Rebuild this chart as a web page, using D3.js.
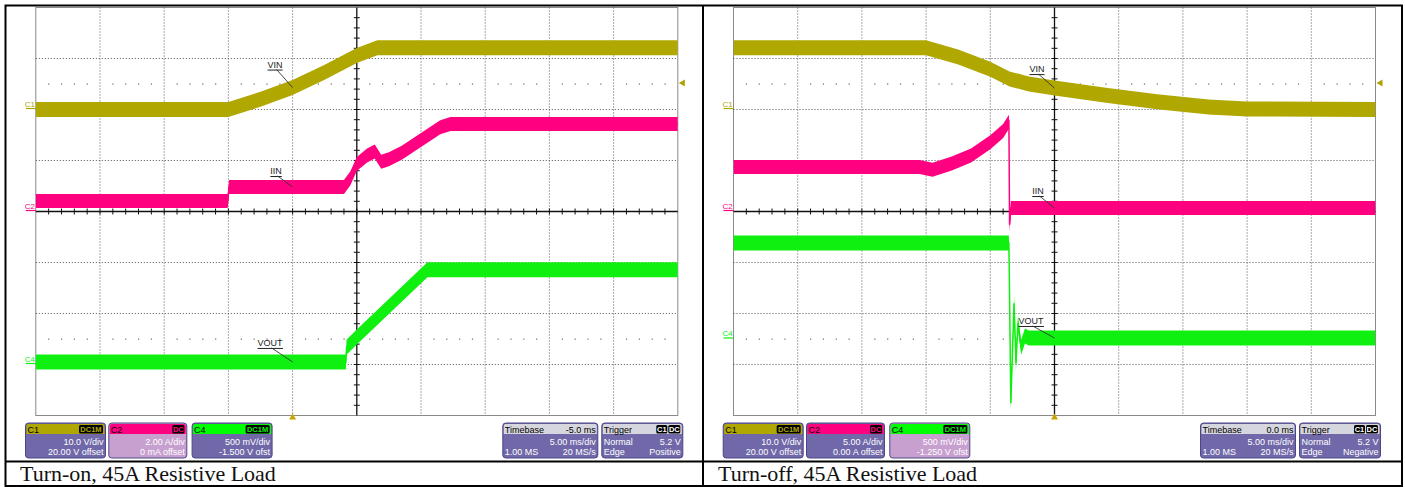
<!DOCTYPE html>
<html><head><meta charset="utf-8">
<script src="https://cdn.jsdelivr.net/npm/d3@7"></script>
<style>body{margin:0;background:#fff}svg{display:block}</style>
</head><body><svg id="c" width="1405" height="487"></svg>
<script>
// ---------------- DATA ----------------
const channelNames = ["C1", "C2", "C4"];
const couplingLabels = ["DC1M", "DC", "DC1M"];
const seriesNames = ["VIN", "IIN", "VOUT"];

// Turn-on panel
const onPerDiv = [10, 2, 0.5];
const onOffsets = [20, 0, -1.5];
const onScaleLabels = ["10.0 V/div", "2.00 A/div", "500 mV/div"];
const onOffsetLabels = ["20.00 V offset", "0 mA offset", "-1.500 V ofst"];
const onTimeRange = [-20, 30];          // ms across 10 div
const onTimebase = ["-5.0 ms", "5.00 ms/div", "1.00 MS", "20 MS/s"];
const onTrigger = ["Normal", "5.2 V", "Edge", "Positive"];
const onVinT  = [-20, -5.0, -2.5, 0, 2.5, 5.0, 6.6, 30];
const onVinV  = [0.0, 0.0, 2.0, 4.3, 7.3, 10.6, 12.1, 12.1];
const onIinT  = [-20, -5.05, -4.95, 4.0, 4.5, 5.0, 5.8, 6.4, 6.9, 7.5, 8.5, 10.0, 11.5, 12.3, 30];
const onIinA  = [0.41, 0.41, 0.96, 0.96, 1.3, 1.86, 2.2, 2.35, 1.95, 2.05, 2.3, 2.8, 3.3, 3.43, 3.43];
const onVoutT = [-20, 4.15, 4.2, 5.0, 10.5, 30];
const onVoutV = [0.025, 0.025, 0.17, 0.27, 0.93, 0.93];

// Turn-off panel
const offPerDiv = [10, 5, 0.5];
const offOffsets = [20, 0, -1.25];
const offScaleLabels = ["10.0 V/div", "5.00 A/div", "500 mV/div"];
const offOffsetLabels = ["20.00 V offset", "0.00 A offset", "-1.250 V ofst"];
const offTimeRange = [-25, 25];
const offTimebase = ["0.0 ms", "5.00 ms/div", "1.00 MS", "20 MS/s"];
const offTrigger = ["Normal", "5.2 V", "Edge", "Negative"];
const offVinT  = [-25, -10, -7.5, -5, -3.5, -2, 0, 4, 8, 12, 15, 25];
const offVinV  = [12.1, 12.1, 10.3, 7.9, 6.0, 5.0, 4.2, 2.8, 1.5, 0.5, 0.1, 0.0];
const offIinT  = [-25, -10.5, -9.5, -8, -6.5, -5, -4, -3.55, -3.5, -3.4, 25];
const offIinA  = [4.36, 4.36, 4.1, 4.7, 5.5, 6.8, 7.9, 8.8, -1.3, 0.34, 0.34];
const offVoutT = [-25, -3.55, -3.4, -3.15, -3.0, -2.85, -2.6, -2.3, -2.0, 25];
const offVoutV = [0.94, 0.94, -0.63, 0.35, -0.24, 0.16, -0.08, 0.03, 0.01, 0.01];

const captions = ["Turn-on, 45A Resistive Load", "Turn-off, 45A Resistive Load"];

// ---------------- STYLE ----------------
const traceColors = ["#B0A800", "#FF0080", "#10F010"];
const bandHalf = [7.5, 7, 7.5];
const DIVX = 64.2, DIVY = 51;
const bodyColor = "#7068A8", selColor = "#C8A0D0";

const svg = d3.select("#c");
const zip = (a, b) => a.map((t, i) => [t, b[i]]);

const panels = [
  { x0: 35.8, range: onTimeRange, perDiv: onPerDiv, offsets: onOffsets,
    series: [zip(onVinT, onVinV), zip(onIinT, onIinA), zip(onVoutT, onVoutV)],
    scaleLabels: onScaleLabels, offsetLabels: onOffsetLabels, timebase: onTimebase, trigger: onTrigger,
    selected: 1, ann: [[-16, -18], [-15, -11], [-21, -14]], caption: captions[0], capX: 20 },
  { x0: 733.5, range: offTimeRange, perDiv: offPerDiv, offsets: offOffsets,
    series: [zip(offVinT, offVinV), zip(offIinT, offIinA), zip(offVoutT, offVoutV)],
    scaleLabels: offScaleLabels, offsetLabels: offOffsetLabels, timebase: offTimebase, trigger: offTrigger,
    selected: 2, ann: [[-16, -14], [-15, -12], [-22, -12]], caption: captions[1], capX: 718 }
];
const y0 = 7.5, y1 = y0 + 8 * DIVY;

panels.forEach((p, pi) => {
  const g = svg.append("g");
  const x = d3.scaleLinear().domain(p.range).range([p.x0, p.x0 + 10 * DIVX]);
  const tPerDiv = (p.range[1] - p.range[0]) / 10;
  const ys = p.perDiv.map((pd, i) => d3.scaleLinear()
      .domain([-4 * pd - p.offsets[i], 4 * pd - p.offsets[i]]).range([y1, y0]));
  const cx = x(p.range[0] + 5 * tPerDiv), cy = y0 + 4 * DIVY;

  // frame
  g.append("rect").attr("x", p.x0).attr("y", y0).attr("width", 10 * DIVX).attr("height", 8 * DIVY)
    .attr("fill", "#fff").attr("stroke", "#8a8a8a").attr("stroke-width", 1);
  // grid
  for (let i = 1; i < 10; i++) {
    if (i === 5) continue;
    const gx = x(p.range[0] + i * tPerDiv);
    g.append("line").attr("x1", gx).attr("x2", gx).attr("y1", y0).attr("y2", y1)
      .attr("stroke", "#555").attr("stroke-width", 1).attr("stroke-dasharray", "1,2");
  }
  for (let j = 1; j < 8; j++) {
    if (j === 4) continue;
    const gy = y0 + j * DIVY;
    g.append("line").attr("x1", p.x0).attr("x2", p.x0 + 10 * DIVX).attr("y1", gy).attr("y2", gy)
      .attr("stroke", "#555").attr("stroke-width", 1).attr("stroke-dasharray", "1,2");
  }
  // sparse dotted reference lines
  [1.5, 6.5].forEach(d => {
    const gy = y0 + d * DIVY;
    for (let k = 1; k < 50; k++) {
      if (k % 5 === 0) continue;
      g.append("rect").attr("x", p.x0 + k * DIVX / 5 - 0.5).attr("y", gy - 0.5)
        .attr("width", 1.2).attr("height", 1.2).attr("fill", "#666");
    }
  });
  // center axes with ticks
  g.append("line").attr("x1", cx).attr("x2", cx).attr("y1", y0).attr("y2", y1).attr("stroke", "#111").attr("stroke-width", 1.3);
  g.append("line").attr("x1", p.x0).attr("x2", p.x0 + 10 * DIVX).attr("y1", cy).attr("y2", cy).attr("stroke", "#111").attr("stroke-width", 1.3);
  for (let k = 1; k < 50; k++) {
    const tx = p.x0 + k * DIVX / 5;
    g.append("line").attr("x1", tx).attr("x2", tx).attr("y1", cy - 3).attr("y2", cy + 3).attr("stroke", "#111");
  }
  for (let k = 1; k < 40; k++) {
    const ty = y0 + k * DIVY / 5;
    g.append("line").attr("x1", cx - 3).attr("x2", cx + 3).attr("y1", ty).attr("y2", ty).attr("stroke", "#111");
  }

  // traces
  const clipId = "clip" + pi;
  svg.append("clipPath").attr("id", clipId).append("rect")
    .attr("x", p.x0).attr("y", y0).attr("width", 10 * DIVX).attr("height", 8 * DIVY);
  const tg = g.append("g").attr("clip-path", `url(#${clipId})`);
  p.series.forEach((s, si) => {
    const yy = ys[si], h = bandHalf[si];
    tg.append("path").datum(s)
      .attr("d", d3.area().x(d => x(d[0])).y0(d => yy(d[1]) + h).y1(d => yy(d[1]) - h))
      .attr("fill", traceColors[si]);
    tg.append("path").datum(s)
      .attr("d", d3.line().x(d => x(d[0])).y(d => yy(d[1])))
      .attr("fill", "none").attr("stroke", traceColors[si]).attr("stroke-width", 1.5);
  });

  // annotations anchored at t = 0
  p.series.forEach((s, si) => {
    const v = d3.scaleLinear().domain(s.map(d => d[0])).range(s.map(d => d[1]))(0);
    const ax = x(0), ay = ys[si](v);
    const [dx, dy] = p.ann[si];
    const sx = ax + dx, sy = ay + dy;
    const t = g.append("text").attr("x", sx - 1.5).attr("y", sy - 2).attr("text-anchor", "middle")
      .attr("font-family", "Liberation Sans, Arial, sans-serif").attr("font-size", 9).attr("fill", "#222")
      .text(seriesNames[si]);
    const bb = t.node().getBBox();
    g.append("line").attr("x1", bb.x).attr("x2", bb.x + bb.width).attr("y1", sy + 0.5).attr("y2", sy + 0.5)
      .attr("stroke", "#222").attr("stroke-width", 1);
    g.append("line").attr("x1", sx).attr("y1", sy).attr("x2", ax).attr("y2", ay)
      .attr("stroke", "#333").attr("stroke-width", 0.9);
  });

  // channel zero markers
  channelNames.forEach((c, si) => {
    const zy = ys[si](0);
    g.append("text").attr("x", p.x0 - 11).attr("y", zy - 3).attr("font-family", "Liberation Sans, Arial, sans-serif")
      .attr("font-size", 8).attr("fill", traceColors[si]).text(c);
    g.append("line").attr("x1", p.x0 - 10).attr("x2", p.x0).attr("y1", zy - 1).attr("y2", zy - 1)
      .attr("stroke", traceColors[si]).attr("stroke-width", 1.2);
  });

  // trigger level arrow (5.2 V on C1) and trigger position arrow (t = 0)
  const tl = ys[0](5.2), rx = p.x0 + 10 * DIVX;
  g.append("path").attr("d", `M${rx + 1},${tl} L${rx + 7},${tl - 3.5} L${rx + 7},${tl + 3.5}Z`).attr("fill", "#B0A000");
  const tx0 = x(0);
  g.append("path").attr("d", `M${tx0},${y1 - 2} L${tx0 - 3.5},${y1 + 4} L${tx0 + 3.5},${y1 + 4}Z`).attr("fill", "#C8A400");

  // ---------- info bar ----------
  const by = 423, bh = 35, hh = 11;
  const font = "Liberation Sans, Arial, sans-serif";
  channelNames.forEach((c, si) => {
    const bx = p.x0 - 10.3 + si * 83.3, bw = si === 1 ? 78 : 80;
    const body = si === p.selected ? selColor : bodyColor;
    g.append("rect").attr("x", bx).attr("y", by).attr("width", bw).attr("height", bh).attr("rx", 3)
      .attr("fill", body).attr("stroke", "#4c4888").attr("stroke-width", 1);
    g.append("path").attr("d", `M${bx + 1},${by + hh} V${by + 3} Q${bx + 1},${by + 1} ${bx + 3},${by + 1} H${bx + bw - 3} Q${bx + bw - 1},${by + 1} ${bx + bw - 1},${by + 3} V${by + hh}Z`)
      .attr("fill", traceColors[si] === "#10F010" ? "#00FF00" : traceColors[si]);
    g.append("text").attr("x", bx + 2).attr("y", by + 9.5).attr("font-family", font).attr("font-size", 9).attr("fill", "#000").text(c);
    const bwid = couplingLabels[si].length > 2 ? 24 : 12;
    g.append("rect").attr("x", bx + bw - 2.5 - bwid).attr("y", by + 2).attr("width", bwid).attr("height", 8.5).attr("rx", 1.5).attr("fill", "#000");
    g.append("text").attr("x", bx + bw - 2.5 - bwid / 2).attr("y", by + 9.2).attr("text-anchor", "middle")
      .attr("font-family", font).attr("font-size", 7.5).attr("font-weight", "bold")
      .attr("fill", traceColors[si]).text(couplingLabels[si]);
    g.append("text").attr("x", bx + bw - 2).attr("y", by + 22).attr("text-anchor", "end").attr("font-family", font)
      .attr("font-size", 9).attr("fill", "#fff").text(p.scaleLabels[si]);
    g.append("text").attr("x", bx + bw - 2).attr("y", by + 32).attr("text-anchor", "end").attr("font-family", font)
      .attr("font-size", 9).attr("fill", "#fff").text(p.offsetLabels[si]);
  });
  // timebase & trigger boxes
  const boxes = [
    { bx: p.x0 + 467, bw: 95, title: "Timebase", right: p.timebase[0],
      rows: [["", p.timebase[1]], [p.timebase[2], p.timebase[3]]] },
    { bx: p.x0 + 566, bw: 81, title: "Trigger", right: null,
      rows: [[p.trigger[0], p.trigger[1]], [p.trigger[2], p.trigger[3]]] }
  ];
  boxes.forEach(b => {
    g.append("rect").attr("x", b.bx).attr("y", by).attr("width", b.bw).attr("height", bh).attr("rx", 3)
      .attr("fill", bodyColor).attr("stroke", "#4c4888");
    g.append("path").attr("d", `M${b.bx + 1},${by + hh} V${by + 3} Q${b.bx + 1},${by + 1} ${b.bx + 3},${by + 1} H${b.bx + b.bw - 3} Q${b.bx + b.bw - 1},${by + 1} ${b.bx + b.bw - 1},${by + 3} V${by + hh}Z`)
      .attr("fill", "#D6D6DE");
    g.append("text").attr("x", b.bx + 2).attr("y", by + 9.5).attr("font-family", font).attr("font-size", 9).attr("fill", "#000").text(b.title);
    if (b.right) {
      g.append("text").attr("x", b.bx + b.bw - 2).attr("y", by + 9.5).attr("text-anchor", "end").attr("font-family", font)
        .attr("font-size", 9).attr("fill", "#000").text(b.right);
    } else {
      [["DC", 12], ["C1", 11]].reduce((xr, [lab, w]) => {
        g.append("rect").attr("x", xr - w).attr("y", by + 2).attr("width", w).attr("height", 8.5).attr("rx", 1.5).attr("fill", "#000");
        g.append("text").attr("x", xr - w / 2).attr("y", by + 9.2).attr("text-anchor", "middle").attr("font-family", font)
          .attr("font-size", 7.5).attr("font-weight", "bold").attr("fill", "#fff").text(lab);
        return xr - w - 1;
      }, b.bx + b.bw - 2.5);
    }
    b.rows.forEach((r, ri) => {
      const yy = by + 22 + ri * 10;
      g.append("text").attr("x", b.bx + 2).attr("y", yy).attr("font-family", font).attr("font-size", 9).attr("fill", "#fff").text(r[0]);
      g.append("text").attr("x", b.bx + b.bw - 2).attr("y", yy).attr("text-anchor", "end").attr("font-family", font).attr("font-size", 9).attr("fill", "#fff").text(r[1]);
    });
  });

  // caption
  svg.append("text").attr("x", p.capX).attr("y", 481).attr("font-family", "Liberation Serif, Times New Roman, serif")
    .attr("font-size", 22).attr("fill", "#111").text(p.caption);
});

// table borders
svg.append("rect").attr("x", 5.5).attr("y", 5.5).attr("width", 1396.5).attr("height", 480.5)
  .attr("fill", "none").attr("stroke", "#000").attr("stroke-width", 2);
svg.append("line").attr("x1", 703).attr("x2", 703).attr("y1", 5).attr("y2", 486).attr("stroke", "#000").attr("stroke-width", 2);
svg.append("line").attr("x1", 5).attr("x2", 1402).attr("y1", 461.5).attr("y2", 461.5).attr("stroke", "#000").attr("stroke-width", 2);
</script></body></html>
